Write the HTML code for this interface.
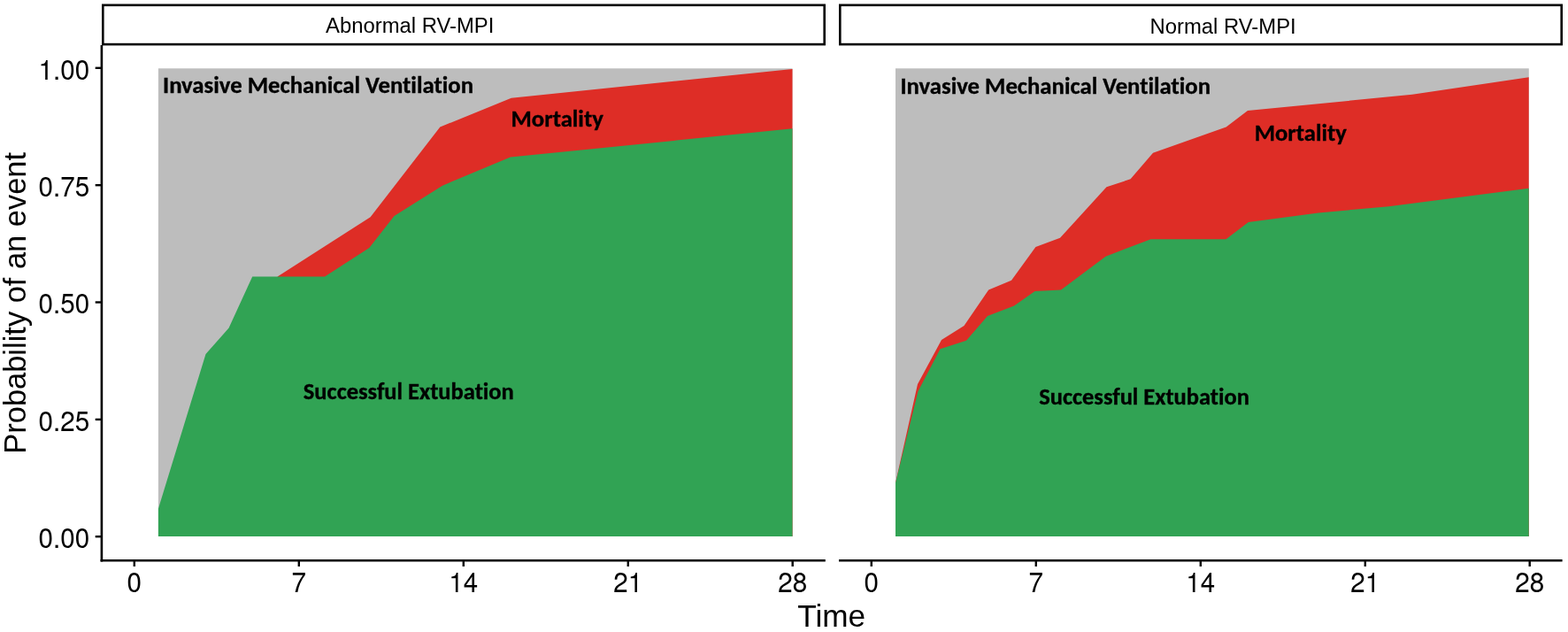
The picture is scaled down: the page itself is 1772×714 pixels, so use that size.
<!DOCTYPE html>
<html>
<head>
<meta charset="utf-8">
<title>Probability of an event</title>
<style>
html,body{margin:0;padding:0;background:#fff;}
body{width:1772px;height:714px;overflow:hidden;}
svg{display:block;}
.ax{font-family:"Liberation Sans",Arial,sans-serif;fill:#000;}
.tk{font-family:"TeX Gyre Heros","Liberation Sans",Arial,sans-serif;fill:#000;}
.lb{font-family:Carlito,"Liberation Sans",sans-serif;font-weight:bold;fill:#000;font-variant-ligatures:none;font-kerning:normal;stroke:#000;stroke-width:0.35px;}
</style>
</head>
<body>
<svg width="1772" height="714" viewBox="0 0 1772 714">
<rect x="0" y="0" width="1772" height="714" fill="#fff"/>

<!-- ===== Left panel ===== -->
<rect x="178.9" y="77.3" width="716.6" height="528.7" fill="#bdbdbd"/>
<polygon fill="#de2d26" points="313.6,312.6 418.6,245.2 497.3,143.5 577.8,110.7 895.5,78.0 895.5,606.0 313.6,606.0"/>
<polygon fill="#31a354" points="178.9,606.0 178.9,574.7 232.5,400.0 258.6,370.6 285.2,312.6 367.0,312.6 417.3,280.0 445.5,244.0 500.0,209.7 576.8,177.6 895.5,145.3 895.5,606.0"/>

<text class="lb" x="184" y="105.1" font-size="26.5" textLength="351" lengthAdjust="spacingAndGlyphs">Invasive Mechanical Ventilation</text>
<text class="lb" x="577.5" y="143.2" font-size="26.5" textLength="104.3" lengthAdjust="spacingAndGlyphs">Mortality</text>
<text class="lb" x="342.8" y="451.3" font-size="26.5" textLength="238" lengthAdjust="spacingAndGlyphs">Successful Extubation</text>

<!-- strip -->
<rect x="116.3" y="5.8" width="815.4" height="44.3" fill="#fff" stroke="#000" stroke-width="2.6"/>
<text class="ax" x="368" y="37.2" font-size="23.85">Abnormal RV-MPI</text>

<!-- axes -->
<line x1="114.9" y1="51" x2="114.9" y2="634.4" stroke="#000" stroke-width="2.6"/>
<line x1="113.6" y1="633.2" x2="932.8" y2="633.2" stroke="#000" stroke-width="2.6"/>
<g stroke="#000" stroke-width="2.4">
<line x1="107.7" y1="76.8" x2="114" y2="76.8"/>
<line x1="107.7" y1="209.2" x2="114" y2="209.2"/>
<line x1="107.7" y1="341.5" x2="114" y2="341.5"/>
<line x1="107.7" y1="473.9" x2="114" y2="473.9"/>
<line x1="107.7" y1="606.2" x2="114" y2="606.2"/>
<line x1="151.8" y1="634" x2="151.8" y2="640"/>
<line x1="337.8" y1="634" x2="337.8" y2="640"/>
<line x1="523.8" y1="634" x2="523.8" y2="640"/>
<line x1="709.8" y1="634" x2="709.8" y2="640"/>
<line x1="895.7" y1="634" x2="895.7" y2="640"/>
</g>
<g class="tk" font-size="29.6" text-anchor="end">
<text transform="translate(101.2,89.6) scale(1,1.08)">1.00</text>
<text transform="translate(101.2,222.0) scale(1,1.08)">0.75</text>
<text transform="translate(101.2,354.3) scale(1,1.08)">0.50</text>
<text transform="translate(101.2,486.7) scale(1,1.08)">0.25</text>
<text transform="translate(101.2,619.0) scale(1,1.08)">0.00</text>
</g>
<g class="tk" font-size="29.6" text-anchor="middle">
<text transform="translate(151.8,669.0) scale(1,1.08)">0</text>
<text transform="translate(337.8,669.0) scale(1,1.08)">7</text>
<text transform="translate(523.8,669.0) scale(1,1.08)">14</text>
<text transform="translate(709.8,669.0) scale(1,1.08)">21</text>
<text transform="translate(895.7,669.0) scale(1,1.08)">28</text>
</g>

<!-- ===== Right panel ===== -->
<rect x="1012.0" y="77.3" width="715.8" height="528.7" fill="#bdbdbd"/>
<polygon fill="#de2d26" points="1012.0,606.0 1012.0,545.5 1037.0,434.0 1064.0,384.0 1089.5,368.0 1117.2,327.5 1143.0,316.8 1170.4,279.0 1198.0,268.8 1250.5,211.2 1277.6,202.3 1303.0,172.8 1385.7,143.4 1410.0,125.0 1596.0,106.8 1727.7,87.3 1727.7,606.0"/>
<polygon fill="#31a354" points="1012.0,606.0 1012.0,545.5 1037.5,442.0 1062.5,394.3 1092.0,384.8 1116.0,357.0 1146.0,345.4 1169.5,329.0 1199.0,327.6 1249.5,289.7 1300.5,270.2 1385.5,270.2 1410.8,251.0 1490.0,240.4 1569.3,233.3 1727.7,212.8 1727.7,606.0"/>

<text class="lb" x="1017.5" y="106.1" font-size="26.5" textLength="350.5" lengthAdjust="spacingAndGlyphs">Invasive Mechanical Ventilation</text>
<text class="lb" x="1417.8" y="159.4" font-size="26.5" textLength="104" lengthAdjust="spacingAndGlyphs">Mortality</text>
<text class="lb" x="1174.2" y="457.2" font-size="26.5" textLength="237.7" lengthAdjust="spacingAndGlyphs">Successful Extubation</text>

<rect x="949.3" y="5.8" width="815.4" height="44.3" fill="#fff" stroke="#000" stroke-width="2.6"/>
<text class="ax" x="1299.5" y="38" font-size="23.85">Normal RV-MPI</text>

<line x1="948" y1="633.2" x2="1765.6" y2="633.2" stroke="#000" stroke-width="2.6"/>
<g stroke="#000" stroke-width="2.4">
<line x1="984.8" y1="634" x2="984.8" y2="640"/>
<line x1="1170.8" y1="634" x2="1170.8" y2="640"/>
<line x1="1356.8" y1="634" x2="1356.8" y2="640"/>
<line x1="1542.8" y1="634" x2="1542.8" y2="640"/>
<line x1="1728.7" y1="634" x2="1728.7" y2="640"/>
</g>
<g class="tk" font-size="29.6" text-anchor="middle">
<text transform="translate(984.8,669.0) scale(1,1.08)">0</text>
<text transform="translate(1170.8,669.0) scale(1,1.08)">7</text>
<text transform="translate(1356.8,669.0) scale(1,1.08)">14</text>
<text transform="translate(1542.8,669.0) scale(1,1.08)">21</text>
<text transform="translate(1728.7,669.0) scale(1,1.08)">28</text>
</g>

<!-- axis titles -->
<text class="ax" x="939.7" y="708.4" font-size="35.2" text-anchor="middle">Time</text>
<text class="ax" transform="translate(28.7,342.3) rotate(-90)" x="0" y="0" font-size="34.45" text-anchor="middle">Probability of an event</text>
</svg>
</body>
</html>
